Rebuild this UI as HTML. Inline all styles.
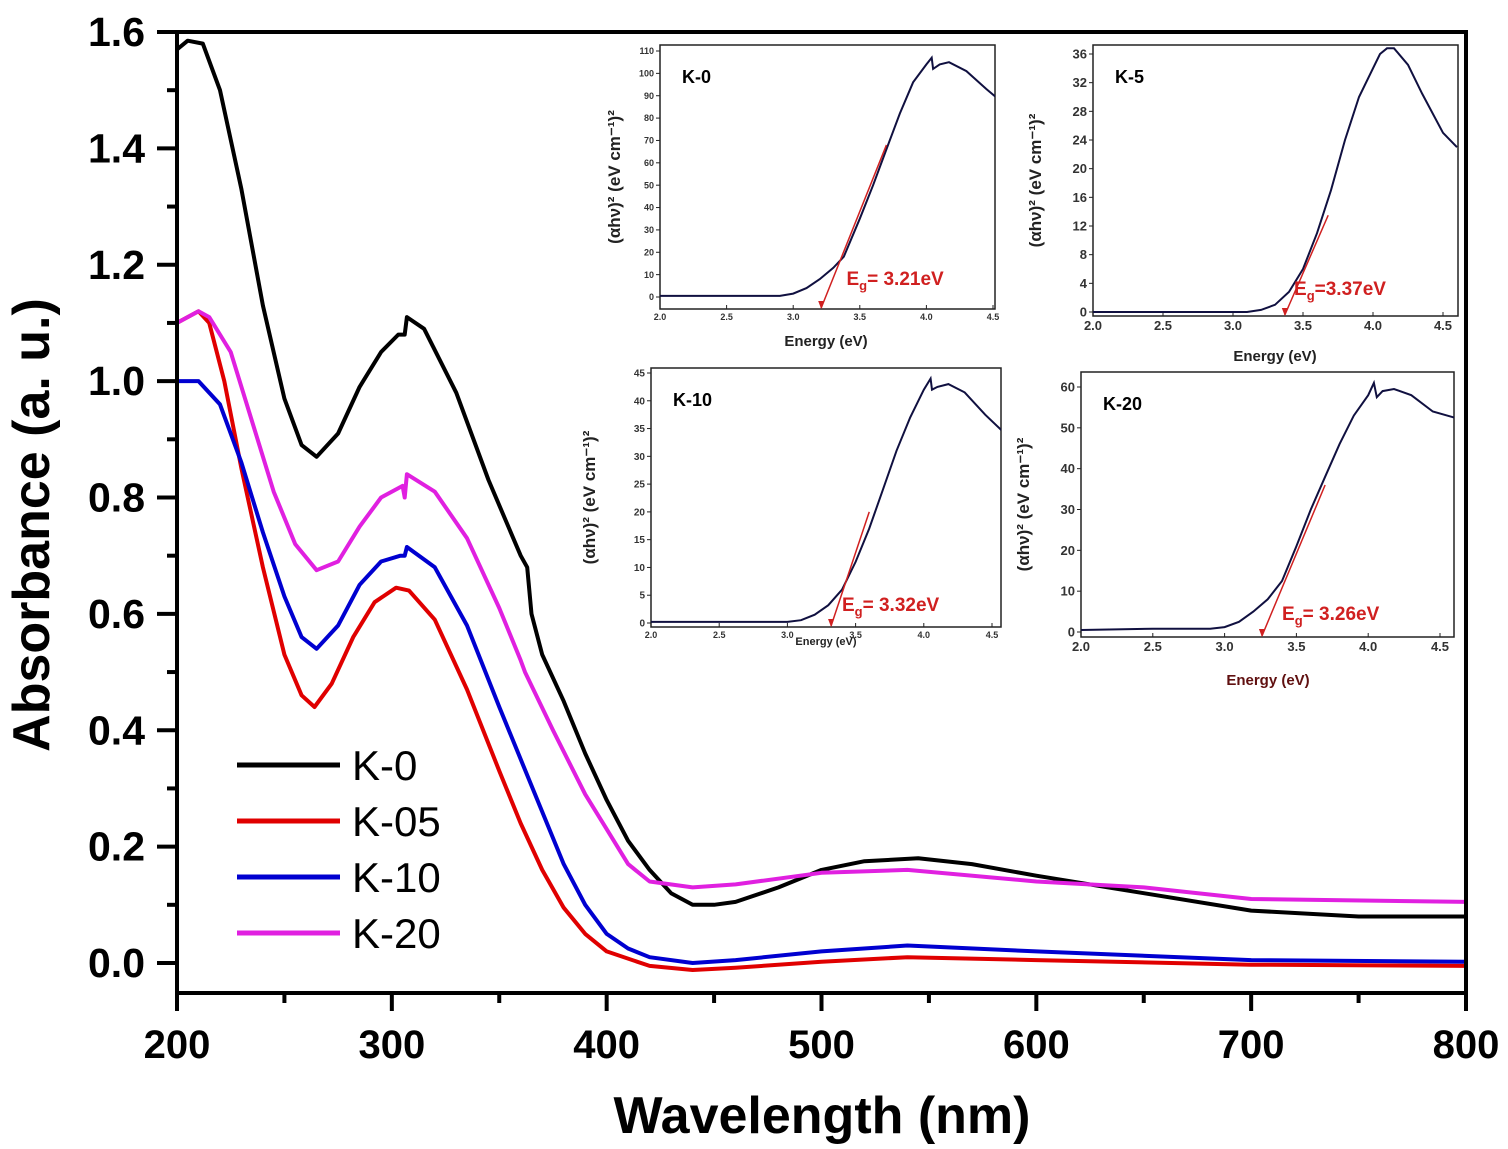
<!DOCTYPE html>
<html><head><meta charset="utf-8"><style>
html,body{margin:0;padding:0;background:#fff;}
svg{display:block;font-family:"Liberation Sans",Arial,sans-serif;}
</style></head><body>
<svg id="chart" width="1508" height="1149" viewBox="0 0 1508 1149" xmlns="http://www.w3.org/2000/svg">
<defs id="defs"></defs>
<g id="main"></g>
<g id="insets"></g>
</svg>
<script>
// ---- main chart data ----
const wlK0 = [200,205,212,220,230,240,250,258,265,275,285,295,303,306,307,315,330,345,360,363,365,370,380,390,400,410,420,430,440,450,460,480,500,520,545,570,600,650,700,750,800];
const absK0 = [1.57,1.585,1.58,1.5,1.33,1.13,0.97,0.89,0.87,0.91,0.99,1.05,1.08,1.08,1.11,1.09,0.98,0.83,0.7,0.68,0.6,0.53,0.45,0.36,0.28,0.21,0.16,0.12,0.1,0.1,0.105,0.13,0.16,0.175,0.18,0.17,0.15,0.12,0.09,0.08,0.08];
const wlK05 = [200,210,215,222,230,240,250,258,264,272,282,292,302,308,320,335,350,360,370,380,390,400,420,440,460,500,540,600,700,800];
const absK05 = [1.1,1.12,1.1,1.0,0.85,0.68,0.53,0.46,0.44,0.48,0.56,0.62,0.645,0.64,0.59,0.47,0.33,0.24,0.16,0.095,0.05,0.02,-0.005,-0.012,-0.008,0.002,0.01,0.005,-0.003,-0.005];
const wlK10 = [200,210,220,230,240,250,258,265,275,285,295,304,306,307,320,335,350,360,370,380,390,400,410,420,440,460,500,540,600,700,800];
const absK10 = [1.0,1.0,0.96,0.86,0.74,0.63,0.56,0.54,0.58,0.65,0.69,0.70,0.70,0.715,0.68,0.58,0.44,0.35,0.26,0.17,0.1,0.05,0.025,0.01,0.0,0.005,0.02,0.03,0.02,0.005,0.002];
const wlK20 = [200,210,215,225,235,245,255,265,275,285,295,305,306,307,320,335,350,360,362,375,390,400,410,420,440,460,500,540,600,650,700,800];
const absK20 = [1.1,1.12,1.11,1.05,0.93,0.81,0.72,0.675,0.69,0.75,0.8,0.82,0.8,0.84,0.81,0.73,0.61,0.52,0.50,0.4,0.29,0.23,0.17,0.14,0.13,0.135,0.155,0.16,0.14,0.13,0.11,0.105];
const seriesNames = ["K-0","K-05","K-10","K-20"];
const seriesColors = ["#000000","#e00000","#0000d0","#e020e0"];
const xTicks = [200,300,400,500,600,700,800];
const yTicks = [0.0,0.2,0.4,0.6,0.8,1.0,1.2,1.4,1.6];

// ---- inset data ----
const eK0 = [2.0,2.9,3.0,3.1,3.2,3.3,3.38,3.5,3.6,3.7,3.8,3.9,4.0,4.04,4.05,4.1,4.17,4.3,4.45,4.55];
const vK0 = [0.5,0.5,1.5,4,8,13,18,35,50,66,82,96,104,107,102,104,105,101,93,88];
const eK5 = [2.0,3.1,3.2,3.3,3.4,3.5,3.6,3.7,3.8,3.9,4.0,4.05,4.1,4.15,4.25,4.35,4.5,4.6];
const vK5 = [0,0,0.3,1,2.8,6,11,17,24,30,34,36,36.8,36.8,34.5,30.5,25,23];
const eK10 = [2.0,3.0,3.1,3.2,3.3,3.4,3.5,3.6,3.7,3.8,3.9,4.0,4.05,4.06,4.1,4.18,4.3,4.45,4.6];
const vK10 = [0.2,0.2,0.5,1.5,3.2,6,11,17,24,31,37,42,44,42,42.5,43,41.5,37.5,34];
const eK20 = [2.0,2.5,2.9,3.0,3.1,3.2,3.3,3.4,3.5,3.6,3.7,3.8,3.9,4.0,4.04,4.06,4.1,4.18,4.3,4.45,4.6];
const vK20 = [0.5,0.8,0.8,1.2,2.5,5,8,12.5,21,30,38,46,53,58,61,57.5,59,59.5,58,54,52.5];
const gapValues = [3.21,3.37,3.32,3.26];

const NS="http://www.w3.org/2000/svg";
function mk(tag,attrs,parent,text){const e=document.createElementNS(NS,tag);for(const k in attrs)e.setAttribute(k,attrs[k]);if(text!==undefined)e.textContent=text;parent.appendChild(e);return e;}

// main axes
const X0=177,X1=1466,Y0=963,Y16=32;
const xs=v=>X0+(v-200)/600*(X1-X0);
const ys=v=>Y0-(v/1.6)*(Y0-Y16);
const main=document.getElementById('main');
const wls=[wlK0,wlK05,wlK10,wlK20], abss=[absK0,absK05,absK10,absK20];
for(let s=0;s<4;s++){
  const pts=wls[s].map((w,i)=>xs(w).toFixed(1)+','+ys(abss[s][i]).toFixed(1)).join(' ');
  const p=mk('polyline',{points:pts,fill:'none',stroke:seriesColors[s],'stroke-width':4,'stroke-linejoin':'round'},main);
  
  
}
const fr=mk('rect',{x:X0,y:Y16,width:X1-X0,height:993-Y16,fill:'none',stroke:'#000','stroke-width':4},main);


xTicks.forEach(t=>{
  mk('line',{x1:xs(t),x2:xs(t),y1:993,y2:1011,stroke:'#000','stroke-width':4},main);
  const l=mk('text',{x:xs(t),y:1058,'text-anchor':'middle','font-size':40,'font-weight':'bold'},main,String(t));
  
  
});
for(let t=250;t<800;t+=100) mk('line',{x1:xs(t),x2:xs(t),y1:993,y2:1003,stroke:'#000','stroke-width':4},main);
yTicks.forEach(t=>{
  mk('line',{x1:157,x2:X0,y1:ys(t),y2:ys(t),stroke:'#000','stroke-width':4},main);
  const l=mk('text',{x:145,y:ys(t)+14,'text-anchor':'end','font-size':41,'font-weight':'bold'},main,t.toFixed(1));
  
  
});
for(let t=0.1;t<1.6;t+=0.2) mk('line',{x1:167,x2:X0,y1:ys(t),y2:ys(t),stroke:'#000','stroke-width':4},main);
const xt=mk('text',{x:822,y:1133,'text-anchor':'middle','font-size':52,'font-weight':'bold'},main,'Wavelength (nm)');


const yt=mk('text',{x:0,y:0,'text-anchor':'middle','font-size':52,'font-weight':'bold',transform:'translate(49,525) rotate(-90)'},main,'Absorbance (a. u.)');


for(let s=0;s<4;s++){
  const y=765+s*56;
  const g=mk('g',{},main);
  
  
  mk('line',{x1:237,x2:340,y1:y,y2:y,stroke:seriesColors[s],'stroke-width':5},g);
  mk('text',{x:352,y:y+15,'font-size':42},g,seriesNames[s]);
}

// insets
const insetDefs=[
 {name:'K-0',E:eK0,V:vK0,px0:660,px1:995,py0:45,py1:309,e45:993,y0:297,ymaxV:110,ymaxY:51,ticks:[0,10,20,30,40,50,60,70,80,90,100,110],tfs:9,tan:[3.7,68],xlab:[826,346]},
 {name:'K-5',E:eK5,V:vK5,px0:1093,px1:1458,py0:45,py1:316,e45:1443,y0:312,ymaxV:36,ymaxY:54,ticks:[0,4,8,12,16,20,24,28,32,36],tfs:13,tan:[3.68,13.5],xlab:[1275,361]},
 {name:'K-10',E:eK10,V:vK10,px0:651,px1:1001,py0:368,py1:627,e45:992,y0:623,ymaxV:45,ymaxY:373,ticks:[0,5,10,15,20,25,30,35,40,45],tfs:10,tan:[3.6,20],xlab:[826,645]},
 {name:'K-20',E:eK20,V:vK20,px0:1081,px1:1454,py0:372,py1:637,e45:1440,y0:632,ymaxV:60,ymaxY:387,ticks:[0,10,20,30,40,50,60],tfs:13,tan:[3.7,36],xlab:[1268,685]}
];
const insG=document.getElementById('insets');
const defs=document.getElementById('defs');
insetDefs.forEach((d,k)=>{
  const g=mk('g',{},insG);
  
  
  const cp=mk('clipPath',{id:'clip'+k},defs);
  mk('rect',{x:d.px0,y:d.py0,width:d.px1-d.px0,height:d.py1-d.py0},cp);
  const ex=e=>d.px0+(e-2.0)/2.5*(d.e45-d.px0);
  const vy=v=>d.y0-v/d.ymaxV*(d.y0-d.ymaxY);
  mk('rect',{x:d.px0,y:d.py0,width:d.px1-d.px0,height:d.py1-d.py0,fill:'#fff',stroke:'#222','stroke-width':1.5},g);
  d.ticks.forEach(t=>{
    mk('line',{x1:d.px0-4,x2:d.px0,y1:vy(t),y2:vy(t),stroke:'#222','stroke-width':1},g);
    mk('text',{x:d.px0-6,y:vy(t)+d.tfs*0.35,'text-anchor':'end','font-size':d.tfs,'font-weight':'bold',fill:'#333'},g,String(t));
  });
  [2.0,2.5,3.0,3.5,4.0,4.5].forEach(t=>{
    mk('line',{x1:ex(t),x2:ex(t),y1:d.py1,y2:d.py1-4,stroke:'#222','stroke-width':1},g);
    mk('text',{x:ex(t),y:d.py1+(d.tfs>10?14:11),'text-anchor':'middle','font-size':d.tfs>10?13:9,'font-weight':'bold',fill:'#333'},g,t.toFixed(1));
  });
  const cg=mk('g',{'clip-path':'url(#clip'+k+')'},g);
  const pts=d.E.map((e,i)=>ex(e).toFixed(1)+','+vy(d.V[i]).toFixed(1)).join(' ');
  const c=mk('polyline',{points:pts,fill:'none',stroke:'#101040','stroke-width':2},cg);
  
  
  const t=mk('line',{x1:ex(d.tan[0]),y1:vy(d.tan[1]),x2:ex(gapValues[k]),y2:d.py1-1,stroke:'#d02020','stroke-width':1.5},cg);
  
  
  mk('polygon',{points:`${ex(gapValues[k])},${d.py1} ${ex(gapValues[k])-3},${d.py1-8} ${ex(gapValues[k])+3},${d.py1-8}`,fill:'#d02020'},g);
  mk('text',{x:d.px0+22,y:d.py0+38,'font-size':18,'font-weight':'bold'},g,d.name);
  const eg=mk('text',{x:ex(3.4)+(k==1?5:0),y:d.y0-(k==1?17:12),'font-size':19,'font-weight':'bold',fill:'#d02020'},g);
  mk('tspan',{},eg,'E');
  mk('tspan',{'font-size':13,dy:5},eg,'g');
  mk('tspan',{dy:-5},eg,(k==1?'=':'= ')+gapValues[k].toFixed(2)+'eV');
  mk('text',{x:d.xlab[0],y:d.xlab[1],'text-anchor':'middle','font-size':k==2?11:15,'font-weight':'bold',fill:k==3?'#601010':'#222'},g,'Energy (eV)');
  mk('text',{x:0,y:0,'text-anchor':'middle','font-size':17,'font-weight':'bold',fill:'#222',transform:`translate(${d.px0-(k==2?56:k==0?40:52)},${(d.py0+d.py1)/2}) rotate(-90)`},g,'(αhν)² (eV cm⁻¹)²');
});
</script>
</body></html>
